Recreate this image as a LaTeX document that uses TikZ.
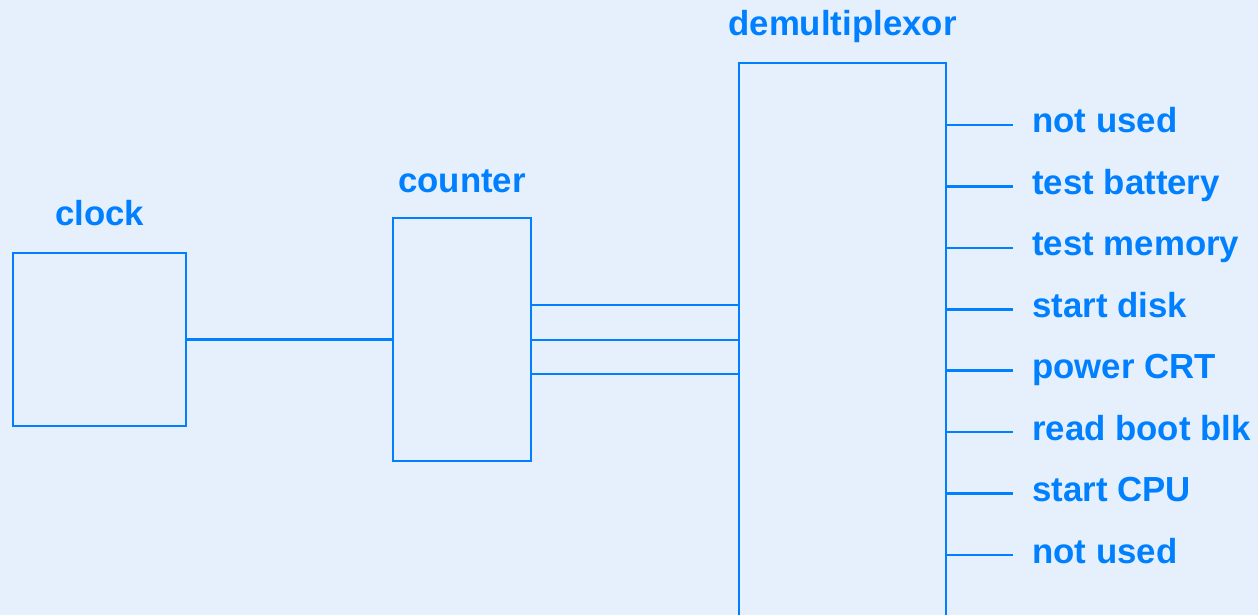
\documentclass[tikz,border=0pt]{standalone}
\usepackage{fontspec}
\setmainfont{Liberation Sans}
\usetikzlibrary{positioning}
\definecolor{wire}{RGB}{0,128,255}
\definecolor{paper}{RGB}{230,240,252}
\tikzset{
  block/.style={draw=wire, line width=1.5pt, inner sep=0pt},
  wiring/.style={draw=wire, line width=1.5pt},
  lbl/.style={text=wire, font=\fontsize{19.8}{23}\selectfont\bfseries, inner sep=0pt, anchor=base},
}
\begin{document}
\begin{tikzpicture}[x=0.02cm,y=-0.02cm]
  % background
  \fill[paper] (0,0) rectangle (1258,615);
  \useasboundingbox (0,0) rectangle (1258,615);
  \clip (0,0) rectangle (1258,615);
  % blocks
  \node[block, minimum width=3.46cm, minimum height=3.46cm] (clock) at (99.5,339.5) {};
  \node[block, minimum width=2.76cm, minimum height=4.86cm] (counter) at (462,339.5) {};
  \node[block, minimum width=4.14cm, minimum height=12.74cm] (demux) at (842.5,381.5) {};
  % titles
  \node[lbl] (clocklbl) at ([yshift=0.52cm]clock.north) {clock};
  \node[lbl] (counterlbl) at ([yshift=0.48cm]counter.north) {counter};
  \node[lbl] (demuxlbl) at ([yshift=0.52cm]demux.north) {demultiplexor};
  % clock to counter
  \draw[wiring] (clock.east) -- (counter.west);
  % counter to demultiplexor
  \foreach \y in {305,340,374}
    \draw[wiring] (counter.east |- 0,\y) -- (demux.west |- 0,\y);
  % outputs
  \foreach \t [count=\i] in {not used, test battery, test memory, start disk,
      power CRT, read boot blk, start CPU, not used} {
    \pgfmathsetmacro\y{125+(\i-1)*61.43}
    \coordinate (out\i) at (1013,\y);
    \draw[wiring] (demux.east |- out\i) -- (out\i);
    \node[lbl, anchor=base west] (outlbl\i) at ([xshift=0.38cm,yshift=-0.16cm]out\i) {\t};
  }
\end{tikzpicture}
\end{document}
